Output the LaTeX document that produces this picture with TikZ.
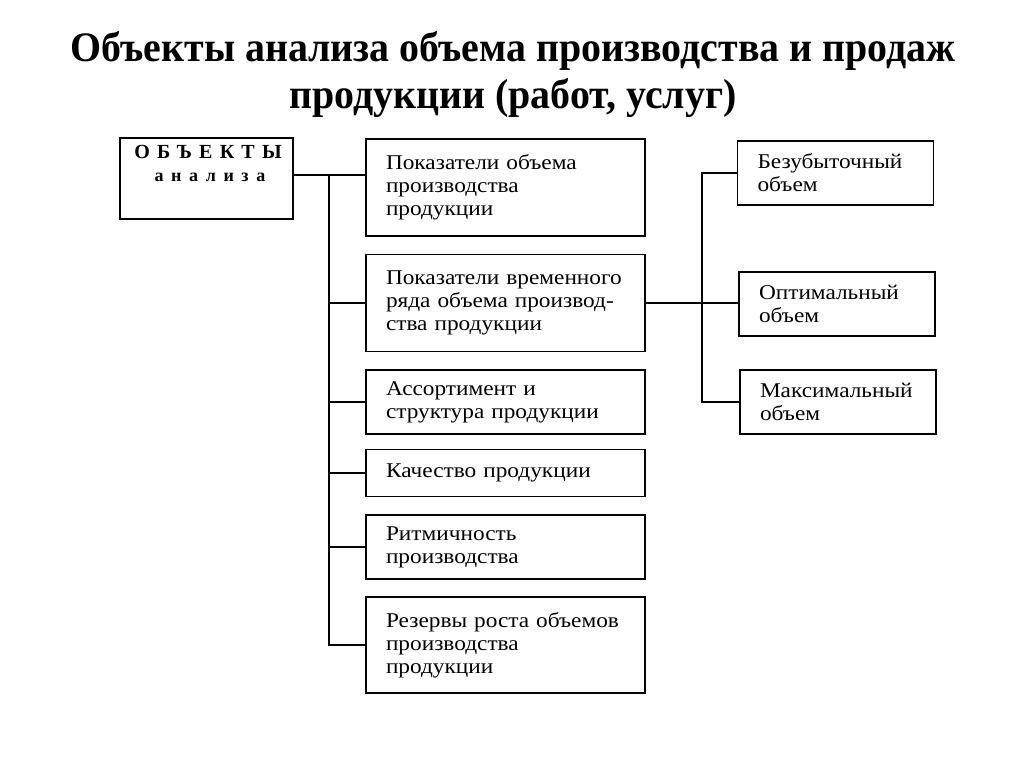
\documentclass[tikz,border=0pt]{standalone}
\usepackage{fontspec}
\setmainfont{Liberation Serif}
\newfontfamily\titlefont[FakeStretch=0.95]{Liberation Serif}
\newfontfamily\boxfont[FakeStretch=1.11]{Liberation Serif}
\newfontfamily\spacedfont[LetterSpace=36]{Liberation Serif}
\newfontfamily\spacedfontb[LetterSpace=42]{Liberation Serif}
\tikzset{
  box/.style={draw, line width=1.6pt, inner xsep=20pt, inner ysep=0pt, align=left, font=\boxfont\fontsize{21}{23}\selectfont},
  mid/.style={box, text width=239pt},
  rgt/.style={box, text width=156pt},
  ttl/.style={font=\titlefont\bfseries\fontsize{42}{44}\selectfont, anchor=base},
  conn/.style={line width=1.6pt}
}
\begin{document}
\begin{tikzpicture}[x=1pt,y=-1pt]
\useasboundingbox (0,0) rectangle (1024,767);
\fill[white] (0,0) rectangle (1024,767);
\node[ttl] (title1) at (513,62) {Объекты анализа объема производства и продаж};
\node[ttl] (title2) at (513,109) {продукции (работ, услуг)};
% left box
\node[draw, line width=1.6pt, minimum width=173pt, minimum height=81pt, inner sep=0pt] (obj) at (206.5,178.5) {};
\node[font=\spacedfont\bfseries\fontsize{20}{24}\selectfont, anchor=base] (objt) at (208,159) {ОБЪЕКТЫ};
\node[font=\spacedfontb\bfseries\fontsize{18}{24}\selectfont, anchor=base] (objt2) at (210,182) {анализа};
% middle boxes
\node[mid, minimum height=97pt] (m1) at (505.5,187.5) {Показатели объема\\производства\\продукции};
\node[mid, minimum height=97pt] (m2) at (505.5,303) {Показатели временного\\ряда объема производ-\\ства продукции};
\node[mid, minimum height=64pt] (m3) at (505.5,402) {Ассортимент и\\структура продукции};
\node[mid, minimum height=47pt] (m4) at (505.5,473) {Качество продукции};
\node[mid, minimum height=64pt] (m5) at (505.5,547) {Ритмичность\\производства};
\node[mid, minimum height=96pt] (m6) at (505.5,645) {Резервы роста объемов\\производства\\продукции};
% right boxes
\node[rgt, minimum height=64pt] (r1) at (835.5,173) {Безубыточный\\объем};
\node[rgt, minimum height=64pt] (r2) at (837,304) {Оптимальный\\объем};
\node[rgt, minimum height=64pt] (r3) at (838,402) {Максимальный\\объем};
% connectors
\coordinate (bus) at (329,0);
\coordinate (rbus) at (702,0);
\coordinate (j0) at (329,175);
\draw[conn] (obj.east |- j0) -- (m1.west |- j0);
\draw[conn] (j0) -- (bus |- m6.west) -- (m6.west);
\draw[conn] (bus |- m2.west) -- (m2.west);
\draw[conn] (bus |- m3.west) -- (m3.west);
\draw[conn] (bus |- m4.west) -- (m4.west);
\draw[conn] (bus |- m5.west) -- (m5.west);
\draw[conn] (m2.east) -- (r2.west |- m2.east);
\draw[conn] (r1.west) -- (rbus |- r1.west) -- (rbus |- r3.west) -- (r3.west);
\end{tikzpicture}
\end{document}
